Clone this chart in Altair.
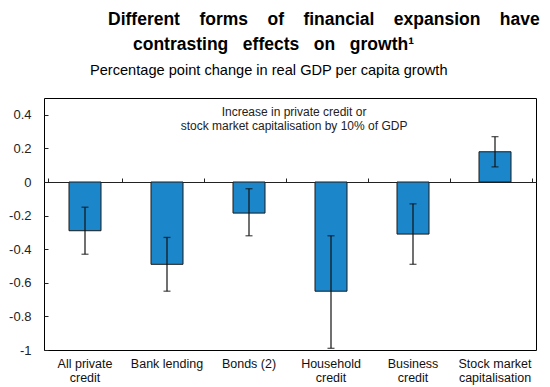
import altair as alt
import pandas as pd

# ---- data ----
categories = ["All private\ncredit", "Bank lending", "Bonds (2)",
              "Household\ncredit", "Business\ncredit", "Stock market\ncapitalisation"]
values = [-0.29, -0.49, -0.185, -0.65, -0.31, 0.18]
err_low = [-0.43, -0.65, -0.32, -0.99, -0.49, 0.09]
err_high = [-0.15, -0.33, -0.04, -0.32, -0.13, 0.27]

y_ticks = [-1, -0.8, -0.6, -0.4, -0.2, 0, 0.2, 0.4]

title_line1 = ["Different", "forms", "of", "financial", "expansion", "have"]
title_line2 = ["contrasting", "effects", "on", "growth\u00b9"]
subtitle = "Percentage point change in real GDP per capita growth"
note_lines = ["Increase in private credit or", "stock market capitalisation by 10% of GDP"]

df = pd.DataFrame({"cat": categories, "value": values, "lo": err_low, "hi": err_high})

FONT = "Liberation Sans"
gap1 = " \u00a0\u00a0\u00a0"
gap2 = " \u00a0\u00a0"

xscale = alt.Scale(domain=categories)
yscale = alt.Scale(domain=[-1, 0.5], nice=False, zero=False)

x_bottom = alt.X("cat:N", sort=None, scale=xscale, title=None,
                 axis=alt.Axis(orient="bottom", domain=False, ticks=False, tickSize=0,
                               labelPadding=7, labelAngle=0, labelFontSize=12.5,
                               labelColor="#111", labelFont=FONT, labelLineHeight=14,
                               labelExpr="split(datum.label, '\\n')"))
y_left = alt.Y("value:Q", scale=yscale, title=None,
               axis=alt.Axis(orient="left", values=y_ticks, domain=False, ticks=False,
                             tickSize=0, grid=False, labelPadding=13, labelFontSize=13,
                             labelColor="#222", labelFont=FONT,
                             labelExpr="toString(round(datum.value*10)/10)"))

bars = alt.Chart(df).mark_bar(size=32, color="#1C86CA", stroke="#1a1a1a",
                              strokeWidth=1).encode(x=x_bottom, y=y_left)

# axis trick layer: zero line with ticks at category boundaries + inner y ticks
x_top = alt.X("cat:N", sort=None, scale=xscale, title=None,
              axis=alt.Axis(orient="top", offset=-84, domain=True, domainColor="#222",
                            domainWidth=1, ticks=True, tickSize=4, tickColor="#222",
                            tickBand="extent", labels=False, grid=False))
y_right = alt.Y("value:Q", scale=yscale, title=None,
                axis=alt.Axis(orient="right", offset=-492, values=y_ticks, domain=False,
                              ticks=True, tickSize=4, tickColor="#222", labels=False,
                              grid=False))
axis_layer = alt.Chart(df).mark_point(opacity=0).encode(x=x_top, y=y_right)

x_none = alt.X("cat:N", sort=None, scale=xscale, axis=None)
err_rule = alt.Chart(df).mark_rule(color="#111", strokeWidth=1.2).encode(
    x=x_none, y=alt.Y("lo:Q", scale=yscale, axis=None), y2="hi:Q")
err_cap_lo = alt.Chart(df).mark_tick(color="#111", size=7, thickness=1.3).encode(
    x=x_none, y=alt.Y("lo:Q", scale=yscale, axis=None))
err_cap_hi = alt.Chart(df).mark_tick(color="#111", size=7, thickness=1.3).encode(
    x=x_none, y=alt.Y("hi:Q", scale=yscale, axis=None))

t1 = alt.Chart(pd.DataFrame({"t": [gap1.join(title_line1)]})).mark_text(
    align="left", baseline="alphabetic", font=FONT, fontSize=17.5, fontWeight="bold",
    color="#000").encode(text="t:N", x=alt.value(64), y=alt.value(-73))
t2 = alt.Chart(pd.DataFrame({"t": [gap2.join(title_line2)]})).mark_text(
    align="left", baseline="alphabetic", font=FONT, fontSize=17.5, fontWeight="bold",
    color="#000").encode(text="t:N", x=alt.value(89), y=alt.value(-48))
t3 = alt.Chart(pd.DataFrame({"t": [subtitle]})).mark_text(
    align="left", baseline="alphabetic", font=FONT, fontSize=14.6,
    color="#000").encode(text="t:N", x=alt.value(46), y=alt.value(-23))
note = alt.Chart(pd.DataFrame({"t": [note_lines]})).mark_text(
    align="center", baseline="alphabetic", font=FONT, fontSize=12, lineHeight=14,
    color="#222").encode(text="t", x=alt.value(250), y=alt.value(18))

chart = alt.layer(bars, axis_layer, err_rule, err_cap_lo, err_cap_hi, t1, t2, t3, note).resolve_axis(
    x="independent", y="independent"
).properties(
    width=492, height=252,
    autosize=alt.AutoSizeParams(type="none"),
    padding={"left": 36, "top": 90, "right": 6, "bottom": 37},
    background="white",
).configure_view(stroke="#000", strokeWidth=1)

chart.save("out.html", embed_options={"renderer": "svg", "actions": False})
